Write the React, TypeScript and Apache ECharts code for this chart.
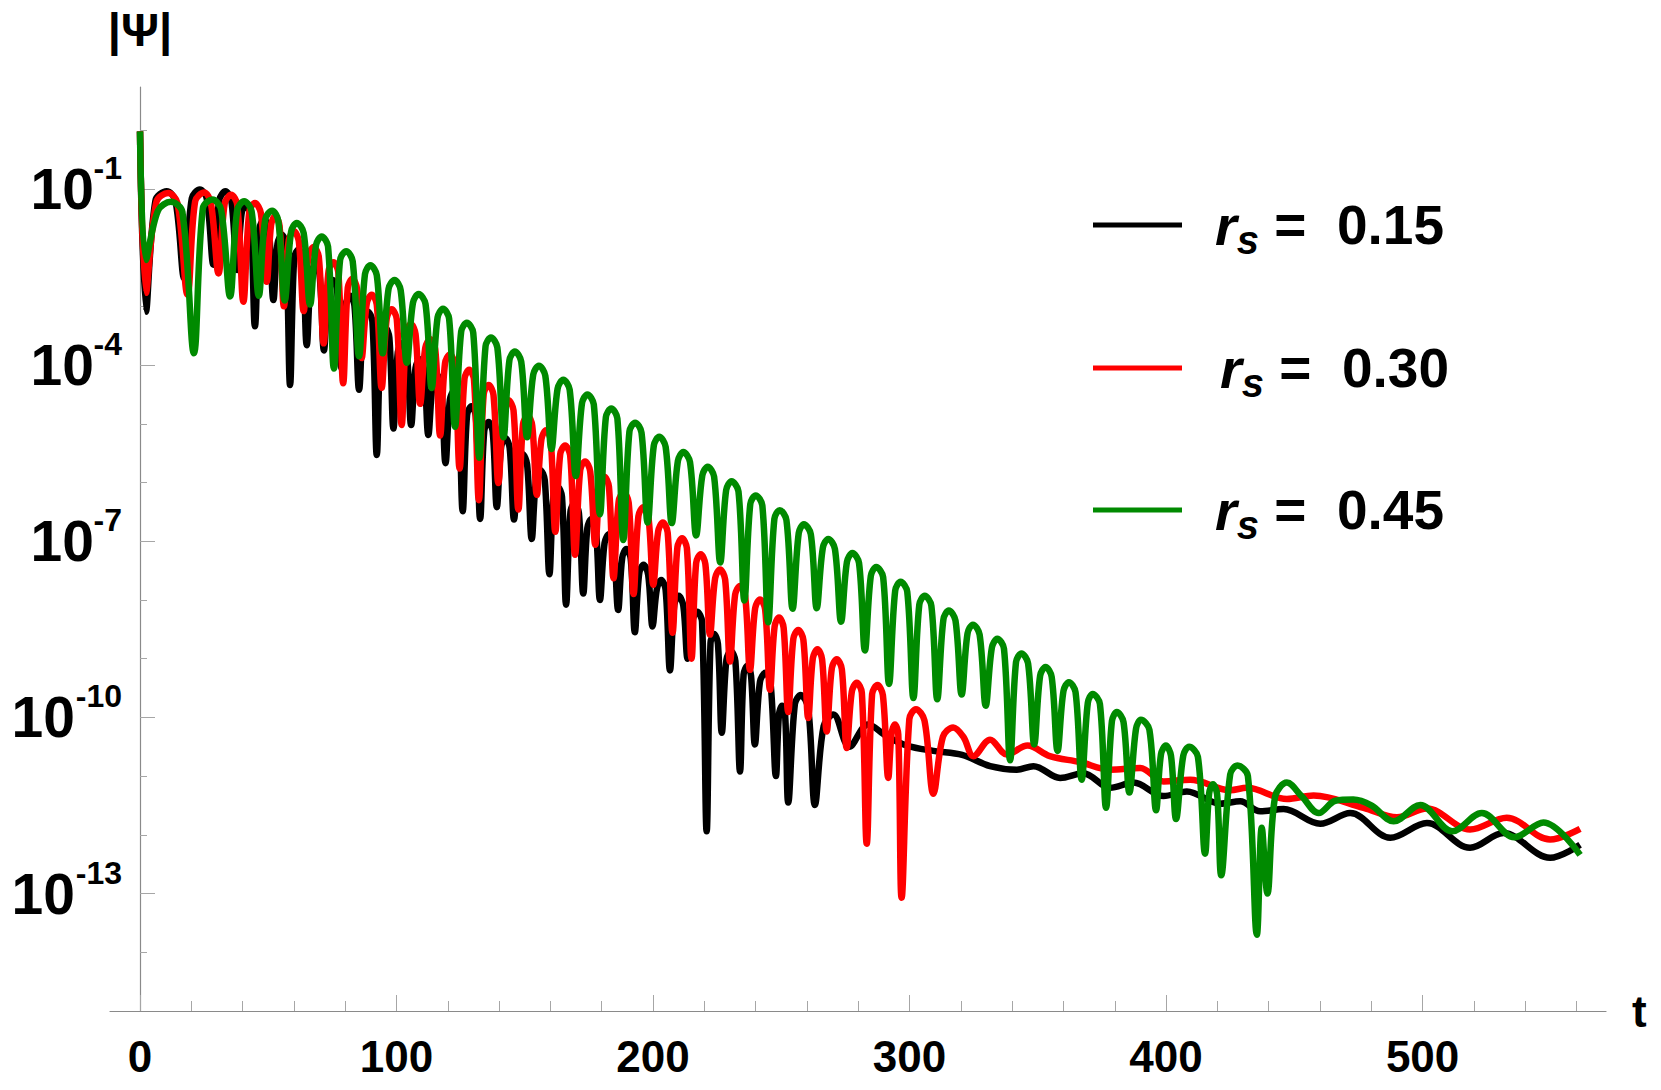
import React, { useEffect, useRef } from 'react';
import * as echarts from 'echarts';

const FONT = '"Liberation Sans", Arial, Helvetica, sans-serif';

// legend / series labels
const seriesNames = ['r_s = 0.15', 'r_s = 0.30', 'r_s = 0.45'];
const seriesValues = ['0.15', '0.30', '0.45'];
const seriesColors = ['#000000', '#ff0000', '#008a00'];

// axis ticks (x in t, y in log10 |Psi|)
const xMajorTicks = [0, 100, 200, 300, 400, 500];
const xMinorTicks = [0, 20, 40, 60, 80, 100, 120, 140, 160, 180, 200, 220, 240, 260, 280, 300, 320, 340, 360, 380, 400, 420, 440, 460, 480, 500, 520, 540, 560];
const yMajorExps = [-13, -10, -7, -4, -1];
const yOneDigitExps = [-7, -4, -1];
const yTwoDigitExps = [-13, -10];
const yMinorExps = [-14, -13, -12, -11, -10, -9, -8, -7, -6, -5, -4, -3, -2, -1, 0];

// [t, log10|Psi|]
const blackLog: number[][] = [
  [0, -0.02], [2.3, -3.09],
  [6.0, -1.2], [10.4, -1.04], [13.8, -1.2], [17.2, -2.52],
  [20.2, -1.16], [23.3, -1.01], [26.0, -1.16], [28.6, -2.29],
  [30.9, -1.19], [33.3, -1.04], [35.6, -1.2], [37.8, -2.38],
  [39.6, -1.42], [41.3, -1.27], [43.1, -1.44], [44.8, -3.34],
  [46.6, -1.67], [48.4, -1.52], [50.2, -1.69], [52.0, -2.89],
  [53.6, -1.93], [55.3, -1.78], [56.9, -1.95], [58.5, -4.34],
  [60.1, -2.18], [61.8, -2.03], [63.4, -2.2], [65.0, -3.66],
  [66.7, -2.44], [68.4, -2.29], [70.0, -2.46], [71.7, -3.75],
  [73.4, -2.7], [75.1, -2.55], [76.8, -2.72], [78.5, -4.05],
  [80.2, -2.97], [81.9, -2.82], [83.6, -2.99], [85.4, -4.42],
  [87.1, -3.24], [88.8, -3.09], [90.6, -3.26], [92.3, -5.53],
  [93.9, -3.51], [95.6, -3.36], [97.2, -3.53], [98.8, -5.08],
  [100.5, -3.78], [102.2, -3.63], [104.0, -3.8], [105.7, -5.02],
  [107.4, -4.05], [109.0, -3.9], [110.7, -4.07], [112.4, -5.19],
  [114.1, -4.32], [115.8, -4.17], [117.4, -4.34], [119.1, -5.67],
  [120.8, -4.59], [122.4, -4.44], [124.1, -4.61], [125.8, -6.49],
  [127.5, -4.85], [129.2, -4.7], [130.9, -4.87], [132.6, -6.62],
  [134.2, -5.12], [135.9, -4.97], [137.5, -5.14], [139.1, -6.42],
  [140.8, -5.39], [142.4, -5.24], [144.1, -5.41], [145.8, -6.63],
  [147.5, -5.67], [149.2, -5.52], [150.9, -5.69], [152.7, -6.96],
  [154.4, -5.94], [156.1, -5.79], [157.8, -5.96], [159.6, -7.56],
  [161.2, -6.22], [162.8, -6.07], [164.5, -6.24], [166.1, -8.08],
  [167.8, -6.5], [169.4, -6.35], [171.1, -6.52], [172.8, -7.89],
  [174.4, -6.77], [176.0, -6.62], [177.7, -6.79], [179.3, -8.0],
  [181.1, -7.03], [182.8, -6.88], [184.6, -7.05], [186.4, -8.17],
  [188.0, -7.28], [189.6, -7.13], [191.3, -7.3], [192.9, -8.55],
  [194.6, -7.55], [196.3, -7.4], [198.1, -7.57], [199.8, -8.45],
  [201.5, -7.81], [203.2, -7.66], [204.9, -7.83], [206.6, -9.2],
  [208.3, -8.08], [210.0, -7.93], [211.8, -8.1], [213.5, -9.0],
  [215.4, -8.35], [217.2, -8.2], [219.1, -8.37], [220.9, -11.94],
  [222.4, -8.73], [223.8, -8.58], [225.3, -8.75], [226.8, -10.26],
  [228.6, -9.02], [230.3, -8.87], [232.1, -9.04], [233.9, -10.92],
  [235.3, -9.27], [236.8, -9.12], [238.2, -9.29], [239.7, -10.46],
  [241.7, -9.39], [243.8, -9.24], [245.8, -9.41], [247.9, -11.0],
  [249.1, -9.95], [250.3, -9.8], [251.5, -9.97], [252.7, -11.45],
  [255.3, -9.77], [257.6, -9.62], [260.5, -9.85], [263.1, -11.49],
  [266.5, -10.15], [270.3, -9.95], [276.5, -10.5], [283.8, -10.12], [291.1, -10.32],
  [298.9, -10.48], [309.3, -10.57], [320.5, -10.64], [331.4, -10.83], [341.8, -10.89],
  [348.3, -10.83], [358.7, -11.03], [367.7, -10.95], [378.2, -11.2], [387.3, -11.11],
  [399.0, -11.34], [408.1, -11.26], [421.1, -11.47], [428.9, -11.43], [436.7, -11.6],
  [445.8, -11.56], [460.1, -11.81], [471.8, -11.63], [487.4, -12.05], [501.7, -11.8],
  [518.5, -12.22], [531.5, -11.97], [549.7, -12.39], [561.4, -12.17],
];

const redLog: number[][] = [
  [0, -0.02], [2.3, -2.77],
  [6.4, -1.22], [11.0, -1.07], [14.6, -1.24], [18.5, -2.8],
  [21.5, -1.21], [25.0, -1.06], [27.6, -1.23], [30.6, -2.44],
  [33.0, -1.25], [35.5, -1.1], [37.9, -1.27], [40.3, -2.92],
  [42.6, -1.39], [44.8, -1.24], [47.1, -1.41], [49.4, -2.58],
  [51.1, -1.61], [52.7, -1.46], [54.4, -1.63], [56.1, -3.0],
  [58.0, -1.87], [60.0, -1.72], [61.9, -1.89], [63.8, -3.08],
  [65.7, -2.14], [67.7, -1.99], [69.7, -2.16], [71.6, -3.63],
  [73.5, -2.4], [75.4, -2.25], [77.3, -2.42], [79.2, -4.31],
  [81.0, -2.68], [82.8, -2.53], [84.6, -2.7], [86.4, -3.88],
  [88.4, -2.95], [90.3, -2.8], [92.3, -2.97], [94.2, -4.39],
  [96.2, -3.2], [98.1, -3.05], [100.1, -3.22], [102.0, -5.02],
  [103.8, -3.45], [105.6, -3.3], [107.4, -3.47], [109.2, -4.66],
  [111.2, -3.71], [113.1, -3.56], [115.1, -3.73], [117.0, -5.2],
  [118.9, -3.97], [120.8, -3.82], [122.7, -3.99], [124.6, -5.76],
  [126.5, -4.23], [128.3, -4.08], [130.2, -4.25], [132.1, -6.3],
  [134.0, -4.49], [135.9, -4.34], [137.8, -4.51], [139.7, -6.01],
  [141.7, -4.75], [143.6, -4.6], [145.6, -4.77], [147.5, -6.46],
  [149.3, -5.01], [151.1, -4.86], [152.9, -5.03], [154.7, -6.21],
  [156.5, -5.26], [158.3, -5.11], [160.1, -5.28], [161.9, -6.84],
  [163.8, -5.52], [165.7, -5.37], [167.7, -5.54], [169.6, -7.23],
  [171.6, -5.79], [173.5, -5.64], [175.5, -5.81], [177.5, -7.06],
  [179.3, -6.05], [181.0, -5.9], [182.8, -6.07], [184.6, -7.63],
  [186.6, -6.32], [188.5, -6.17], [190.5, -6.34], [192.4, -7.9],
  [194.3, -6.57], [196.2, -6.42], [198.2, -6.59], [200.1, -7.74],
  [202.0, -6.83], [203.8, -6.68], [205.7, -6.85], [207.6, -8.56],
  [209.5, -7.1], [211.3, -6.95], [213.2, -7.12], [215.0, -9.0],
  [216.8, -7.37], [218.6, -7.22], [220.4, -7.39], [222.2, -8.59],
  [224.2, -7.63], [226.1, -7.48], [228.1, -7.65], [230.0, -9.05],
  [232.0, -7.91], [233.9, -7.76], [235.9, -7.93], [237.8, -9.19],
  [239.8, -8.14], [241.7, -7.99], [243.7, -8.16], [245.6, -9.53],
  [247.4, -8.45], [249.1, -8.3], [250.9, -8.47], [252.7, -9.91],
  [254.7, -8.66], [256.6, -8.51], [258.6, -8.68], [260.5, -10.01],
  [262.3, -8.99], [264.1, -8.84], [265.9, -9.01], [267.7, -10.24],
  [269.7, -9.16], [271.6, -9.01], [273.6, -9.18], [275.5, -10.52],
  [277.5, -9.56], [279.4, -9.41], [281.4, -9.58], [283.3, -12.15],
  [285.4, -9.6], [287.5, -9.45], [289.6, -9.62], [291.7, -11.03],
  [293.0, -10.27], [294.3, -10.12], [295.6, -10.29], [296.9, -13.07],
  [299.9, -10.03], [302.5, -9.86], [305.8, -10.05], [309.3, -11.3],
  [313.0, -10.33], [317.0, -10.17], [321.0, -10.33], [324.9, -10.66],
  [331.4, -10.38], [337.9, -10.63], [346.0, -10.48], [354.7, -10.66], [366.4, -10.76],
  [378.2, -10.89], [389.9, -10.86], [399.0, -11.09], [409.4, -11.06], [425.0, -11.24],
  [431.5, -11.2], [447.1, -11.39], [457.5, -11.33], [477.0, -11.54], [490.0, -11.7],
  [501.7, -11.55], [518.5, -11.91], [532.8, -11.71], [549.7, -12.08], [561.4, -11.9],
];

const greenLog: number[][] = [
  [0, -0.02], [2.3, -2.21],
  [7.0, -1.37], [12.0, -1.22], [16.5, -1.39], [21.0, -3.8],
  [24.5, -1.33], [28.2, -1.18], [31.6, -1.35], [35.1, -2.83],
  [37.9, -1.36], [40.6, -1.21], [43.5, -1.38], [46.3, -2.82],
  [48.8, -1.52], [51.5, -1.37], [53.9, -1.54], [56.4, -2.9],
  [58.9, -1.73], [61.1, -1.58], [63.8, -1.75], [66.3, -2.97],
  [68.6, -1.96], [70.8, -1.81], [73.3, -1.98], [75.6, -4.06],
  [78.0, -2.21], [80.4, -2.06], [82.9, -2.23], [85.4, -3.85],
  [87.7, -2.45], [89.8, -2.3], [92.3, -2.47], [94.6, -3.8],
  [96.9, -2.7], [99.2, -2.55], [101.6, -2.72], [104.0, -3.96],
  [106.4, -2.94], [108.6, -2.79], [111.3, -2.96], [113.7, -4.39],
  [116.0, -3.19], [118.1, -3.04], [120.5, -3.21], [122.8, -5.05],
  [125.2, -3.43], [127.4, -3.28], [129.9, -3.45], [132.3, -5.58],
  [134.7, -3.68], [136.8, -3.53], [139.3, -3.7], [141.7, -5.23],
  [144.0, -3.92], [146.1, -3.77], [148.6, -3.94], [150.9, -5.23],
  [153.3, -4.16], [155.5, -4.01], [158.0, -4.18], [160.4, -5.43],
  [162.8, -4.4], [165.0, -4.25], [167.5, -4.42], [169.9, -5.89],
  [172.3, -4.65], [174.4, -4.5], [176.9, -4.67], [179.3, -6.54],
  [181.6, -4.89], [183.7, -4.74], [186.1, -4.91], [188.4, -6.98],
  [190.8, -5.13], [193.0, -4.98], [195.5, -5.15], [197.9, -6.68],
  [200.3, -5.37], [202.4, -5.22], [204.9, -5.39], [207.3, -6.69],
  [209.7, -5.63], [211.8, -5.48], [214.4, -5.65], [216.8, -6.9],
  [219.2, -5.88], [221.3, -5.73], [223.8, -5.9], [226.2, -7.36],
  [228.5, -6.13], [230.6, -5.98], [233.3, -6.15], [235.6, -8.01],
  [237.9, -6.37], [240.0, -6.22], [242.6, -6.39], [244.9, -8.38],
  [247.3, -6.62], [249.4, -6.47], [252.0, -6.64], [254.4, -8.15],
  [256.8, -6.86], [258.8, -6.71], [261.5, -6.88], [263.8, -8.14],
  [266.2, -7.11], [268.3, -6.96], [270.9, -7.13], [273.3, -8.37],
  [275.6, -7.35], [277.7, -7.2], [280.3, -7.37], [282.6, -8.86],
  [284.9, -7.59], [287.0, -7.44], [289.7, -7.61], [292.0, -9.43],
  [294.4, -7.84], [296.5, -7.69], [299.1, -7.86], [301.5, -9.67],
  [303.8, -8.08], [305.9, -7.93], [308.5, -8.1], [310.8, -9.69],
  [313.2, -8.33], [315.3, -8.18], [317.9, -8.35], [320.3, -9.61],
  [322.6, -8.57], [324.7, -8.42], [327.3, -8.59], [329.7, -9.8],
  [332.1, -8.81], [334.2, -8.66], [336.8, -8.83], [339.2, -10.73],
  [341.5, -9.06], [343.6, -8.91], [346.2, -9.08], [348.6, -10.46],
  [350.9, -9.29], [353.0, -9.14], [355.4, -9.31], [357.7, -10.57],
  [360.0, -9.55], [362.1, -9.4], [364.7, -9.57], [367.1, -11.06],
  [369.5, -9.75], [371.4, -9.6], [374.2, -9.77], [376.6, -11.54],
  [378.9, -10.06], [380.8, -9.91], [383.4, -10.08], [385.7, -11.28],
  [388.3, -10.19], [390.2, -10.04], [393.5, -10.21], [396.1, -11.58],
  [398.0, -10.63], [399.9, -10.48], [401.9, -10.65], [403.9, -11.73],
  [406.7, -10.65], [409.0, -10.5], [412.4, -10.67], [415.2, -12.32],
  [416.8, -11.29], [418.3, -11.14], [419.9, -11.31], [421.5, -12.69],
  [425.0, -10.97], [427.8, -10.82], [431.9, -11.0], [435.4, -13.7],
  [437.3, -11.88], [439.5, -13.0],
  [442.5, -11.35], [447.1, -11.11], [453.0, -11.35], [459.5, -11.63], [466.0, -11.42],
  [473.0, -11.4], [480.0, -11.5], [488.7, -11.77], [499.1, -11.49], [511.5, -11.94],
  [523.1, -11.63], [535.8, -12.04], [547.1, -11.79], [561.4, -12.34],
];

const seriesData = [blackLog, redLog, greenLog];

export default function App() {
  const ref = useRef<HTMLDivElement>(null);

  useEffect(() => {
    if (!ref.current) return;
    const chart = echarts.init(ref.current, null, { renderer: 'svg' });

    const legendTops = [185, 328, 470];
    const legendPads = [28, 33, 28];

    // grid 0 holds the data (its x axis reaches left of t = 0);
    // grid 1 starts at t = 0 and carries the visible y axis, ticks and labels.
    const yBase = {
      type: 'value', min: -15, max: 0.736, position: 'left', gridIndex: 1,
      splitLine: { show: false },
    };
    const tenLabelAxis = (values: number[], margin: number) => ({
      ...yBase,
      axisLine: { show: false, onZero: false },
      axisTick: { show: false },
      axisLabel: {
        show: true, customValues: values, margin, align: 'right', verticalAlign: 'middle',
        formatter: () => '10',
        fontFamily: FONT, fontSize: 57, fontWeight: 'bold', color: '#000',
      },
    });

    const option: any = {
      animation: false,
      backgroundColor: '#ffffff',
      grid: [
        { left: 110, right: 55, top: 87, bottom: 79, containLabel: false, outerBoundsMode: 'none' },
        { left: 140, right: 55, top: 87, bottom: 79, containLabel: false, outerBoundsMode: 'none' },
      ],
      xAxis: [
        {
          type: 'value', gridIndex: 0, min: -11.7, max: 571.5, position: 'bottom',
          axisLine: { show: true, onZero: false, lineStyle: { color: '#8a8a8a', width: 1.2 } },
          axisTick: { show: true, inside: true, length: 10, customValues: xMinorTicks, lineStyle: { color: '#a6a6a6', width: 1 } },
          axisLabel: { show: false },
          splitLine: { show: false },
          name: 't', nameLocation: 'end', nameGap: 26,
          nameTextStyle: { fontFamily: FONT, fontSize: 44, fontWeight: 'bold', color: '#000', padding: [6, 0, 0, 0] },
        },
        {
          type: 'value', gridIndex: 0, min: -11.7, max: 571.5, position: 'bottom',
          axisLine: { show: false, onZero: false },
          axisTick: { show: true, inside: true, length: 16, customValues: xMajorTicks, lineStyle: { color: '#a6a6a6', width: 1 } },
          axisLabel: { show: true, customValues: xMajorTicks, margin: 23, fontFamily: FONT, fontSize: 44, fontWeight: 'bold', color: '#000' },
          splitLine: { show: false },
        },
        {
          type: 'value', gridIndex: 1, min: 0, max: 571.5, show: false,
          axisLine: { onZero: false },
        },
      ],
      yAxis: [
        {
          type: 'value', gridIndex: 0, min: -15, max: 0.736, show: false,
          axisLine: { onZero: false },
        },
        {
          ...yBase,
          axisLine: { show: true, onZero: false, lineStyle: { color: '#8a8a8a', width: 1.2 } },
          axisTick: { show: true, inside: true, length: 7, customValues: yMinorExps, lineStyle: { color: '#a6a6a6', width: 1 } },
          axisLabel: { show: false },
          name: '|Ψ|', nameLocation: 'end', nameGap: 34,
          nameTextStyle: { fontFamily: FONT, fontSize: 47, fontWeight: 'bold', color: '#000' },
        },
        {
          ...yBase,
          axisLine: { show: false, onZero: false },
          axisTick: { show: true, inside: true, length: 15, customValues: yMajorExps, lineStyle: { color: '#a6a6a6', width: 1 } },
          axisLabel: {
            show: true, customValues: yMajorExps, margin: 18, align: 'right', verticalAlign: 'bottom',
            lineHeight: 42,
            formatter: (v: number) => `${v}`,
            fontFamily: FONT, fontSize: 32, fontWeight: 'bold', color: '#000',
          },
        },
        tenLabelAxis(yOneDigitExps, 46),
        tenLabelAxis(yTwoDigitExps, 65),
      ],
      legend: seriesNames.map((n, i) => ({
        data: [n],
        orient: 'vertical',
        left: 1088,
        top: legendTops[i],
        icon: 'rect',
        itemWidth: 89,
        itemHeight: 5,
        selectedMode: false,
        itemStyle: { borderWidth: 0 },
        formatter: () => `{sp|\u00A0}{r|r}{s|s}{t|\u00A0=\u00A0\u00A0${seriesValues[i]}}`,
        textStyle: {
          rich: {
            sp: { width: legendPads[i], fontSize: 10 },
            r: { fontFamily: FONT, fontSize: 56, fontStyle: 'italic', fontWeight: 'bold', color: '#000', lineHeight: 56 },
            s: { fontFamily: FONT, fontSize: 40, fontStyle: 'italic', fontWeight: 'bold', color: '#000', lineHeight: 40, padding: [30, 0, 0, 0] },
            t: { fontFamily: FONT, fontSize: 55, fontWeight: 'bold', color: '#000', lineHeight: 55 },
          },
        },
      })),
      series: seriesData.map((d, i) => ({
        type: 'line',
        name: seriesNames[i],
        data: d,
        xAxisIndex: 0,
        yAxisIndex: 0,
        symbol: 'none',
        showSymbol: false,
        smooth: 0.35,
        silent: true,
        lineStyle: { color: seriesColors[i], width: 6.5 },
        itemStyle: { color: seriesColors[i] },
      })),
    };

    chart.setOption(option);
    return () => chart.dispose();
  }, []);

  return <div ref={ref} style={{ position: 'absolute', left: 0, top: 0, width: 1661, height: 1090 }} />;
}
